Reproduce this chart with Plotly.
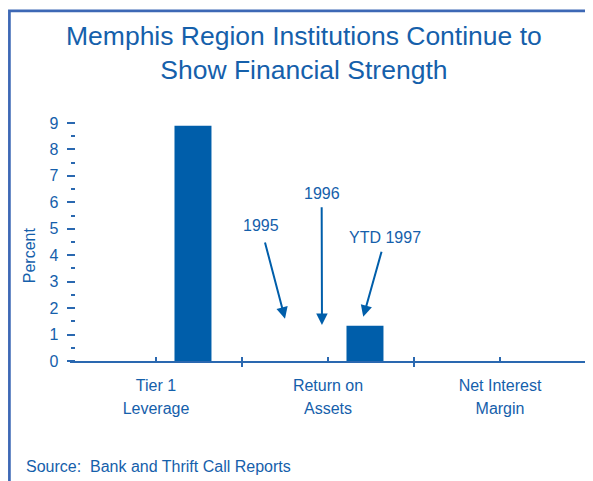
import plotly.graph_objects as go

# ---- data ----
categories = ["Tier 1\nLeverage", "Return on\nAssets", "Net Interest\nMargin"]
series_names = ["1995", "1996", "YTD 1997"]
values_1995 = [None, None, None]
values_1996 = [None, None, None]
values_ytd1997 = [8.9, 1.33, None]
y_ticks = [0, 1, 2, 3, 4, 5, 6, 7, 8, 9]

# annotation (label) placement in data units: tip (x, y) and text centre (ax, ay)
ann_text = ["1995", "1996", "YTD 1997"]
ann_tip_x = [0.75, 0.965, 1.205]
ann_tip_y = [1.6, 1.36, 1.67]
ann_txt_x = [0.608, 0.963, 1.334]
ann_txt_y = [5.12, 6.34, 4.66]
ann_startoff = [5, 2, 2]

TXT = "#1560ab"
BAR = "#005eaa"
AX = "#2a68b0"
FRAME = "#3d68b5"
FONT = "Liberation Sans, Arial, sans-serif"

xpos = list(range(len(categories)))
line1 = [c.split("\n")[0] for c in categories]
line2 = [c.split("\n")[1] for c in categories]
bounds = [i - 0.5 for i in range(len(categories) + 1)]

fig = go.Figure()
for name, vals in zip(series_names, [values_1995, values_1996, values_ytd1997]):
    fig.add_trace(go.Bar(x=xpos, y=vals, name=name, marker_color=BAR,
                         marker_line_width=0, showlegend=False))

# empty traces to activate the overlay x axes (crossing ticks / 2nd label line)
fig.add_trace(go.Scatter(x=[], y=[], xaxis="x2", yaxis="y", showlegend=False))
fig.add_trace(go.Scatter(x=[], y=[], xaxis="x3", yaxis="y", showlegend=False))

W, H = 593, 481
ml, mr, mt, mb = 62, 15, 115, 128
pw = W - ml - mr
ph = H - mt - mb

xrange = [-0.5, len(categories) - 0.5]
yrange = [0, 9]

fig.update_layout(
    width=W, height=H,
    margin=dict(l=ml, r=mr, t=mt, b=mb, pad=0),
    paper_bgcolor="white", plot_bgcolor="white",
    barmode="group", bargap=0.355, bargroupgap=0,
    font=dict(family=FONT, color=TXT, size=16),
    xaxis=dict(range=xrange, tickvals=xpos, ticktext=line1,
               ticks="inside", ticklen=4, tickwidth=1.5, tickcolor=AX,
               showline=True, linecolor=AX, linewidth=1.5,
               showgrid=False, zeroline=False, ticklabelstandoff=9,
               tickfont=dict(size=16, color=TXT),
               minor=dict(tickvals=bounds, ticks="outside", ticklen=4,
                          tickwidth=1.5, tickcolor=AX, showgrid=False)),
    xaxis2=dict(range=xrange, overlaying="x", anchor="y", side="bottom",
                tickvals=bounds, ticks="inside", ticklen=4, tickwidth=1.5,
                tickcolor=AX, showticklabels=False, showline=False,
                showgrid=False, zeroline=False),
    xaxis3=dict(range=xrange, overlaying="x", anchor="y", side="bottom",
                tickvals=xpos, ticktext=line2, ticks="", showline=False,
                showgrid=False, zeroline=False, ticklabelstandoff=36,
                tickfont=dict(size=16, color=TXT)),
    yaxis=dict(range=yrange, tickvals=y_ticks, ticks="outside", ticklen=8.3,
               anchor="free", position=5 / pw, side="left",
               tickwidth=1.5, tickcolor=AX, showline=False, showgrid=False,
               zeroline=False, ticklabelstandoff=5,
               tickfont=dict(size=16, color=TXT),
               minor=dict(dtick=0.5, tick0=0, ticks="outside", ticklen=4,
                          tickwidth=1.5, tickcolor=AX, showgrid=False)),
)

# frame (only left and top border fall inside the window)
fig.add_shape(type="rect", xref="paper", yref="paper",
              x0=(1.4 - ml) / pw, x1=(700 - ml) / pw,
              y0=(H - mb - 600) / ph, y1=(H - mb - 2.8) / ph,
              line=dict(color=FRAME, width=2.7), fillcolor="rgba(0,0,0,0)",
              layer="below")

# title
fig.add_annotation(text="Memphis Region Institutions Continue to<br>Show Financial Strength",
                   xref="paper", yref="paper",
                   x=(296 - ml) / pw, y=(H - mb - 45.5) / ph,
                   xanchor="center", yanchor="middle", showarrow=False,
                   font=dict(size=26.5, color=TXT, family=FONT))

# y title
fig.add_annotation(text="Percent", xref="paper", yref="paper",
                   x=(21.7 - ml) / pw, y=(H - mb - 247.5) / ph,
                   xanchor="center", yanchor="middle", textangle=-90,
                   showarrow=False, font=dict(size=16, color=TXT))

# source
fig.add_annotation(text="Source:  Bank and Thrift Call Reports", xref="paper", yref="paper",
                   x=(16 - ml) / pw, y=(H - mb - 458) / ph,
                   xanchor="left", yanchor="middle", showarrow=False,
                   font=dict(size=16, color=TXT))

for t, tx, ty, ax_, ay_, so in zip(ann_text, ann_tip_x, ann_tip_y, ann_txt_x, ann_txt_y, ann_startoff):
    fig.add_annotation(text=t, x=tx, y=ty, ax=ax_, ay=ay_, xref="x", yref="y",
                       axref="x", ayref="y", showarrow=True, arrowhead=2,
                       arrowsize=1.15, arrowwidth=2, arrowcolor=BAR,
                       borderpad=3, startstandoff=so,
                       font=dict(size=16, color=TXT))

fig.write_html("out.html")
